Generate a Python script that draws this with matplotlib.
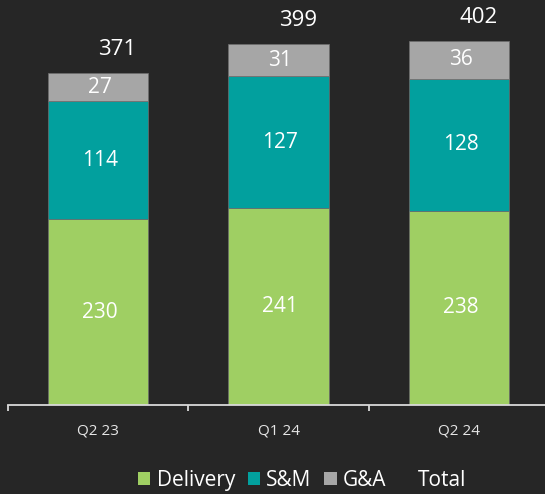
import matplotlib.pyplot as plt
from matplotlib.patches import Patch

plt.rcParams['font.family'] = ['Open Sans', 'DejaVu Sans']

quarters = ['Q2 23', 'Q1 24', 'Q2 24']
delivery = [230, 241, 238]
sales_marketing = [114, 127, 128]
general_admin = [27, 31, 36]
totals = [371, 399, 402]

series = [('Delivery', delivery, '#9fcf63'),
          ('S&M', sales_marketing, '#02a09e'),
          ('G&A', general_admin, '#a6a6a6')]

bg = '#262626'
fig = plt.figure(figsize=(5.45, 4.94), dpi=100, facecolor=bg)
ax = fig.add_axes([8 / 545, 89 / 494, 541 / 545, 405 / 494], facecolor=bg)
ax.set_ylim(50, 442)
ax.set_xlim(-0.5, 2.5)

x = range(len(quarters))
bottom = [0] * len(quarters)
for name, vals, color in series:
    ax.bar(x, vals, width=0.557, bottom=bottom, color=color,
           edgecolor='#6e6e6e', linewidth=0.5, zorder=2)
    for i, v in enumerate(vals):
        lo = max(bottom[i], ax.get_ylim()[0])
        ax.text(i + 0.01, (lo + bottom[i] + v) / 2, str(v), ha='center', va='center',
                color='white', fontsize=15, zorder=3)
    bottom = [b + v for b, v in zip(bottom, vals)]

# totals sit above each stack, nudged to the right
for i, t in enumerate(totals):
    ax.annotate(str(t), (i, t), xytext=(14, 17), textcoords='offset points',
                ha='center', va='center', color='white', fontsize=16)

for side in ['top', 'right', 'left']:
    ax.spines[side].set_visible(False)
ax.spines['bottom'].set_color('#d9d9d9')
ax.spines['bottom'].set_linewidth(1.3)
ax.set_yticks([])
ax.set_xticks(list(x))
ax.set_xticklabels(quarters, fontsize=11, color='#e6e6e6')
ax.tick_params(axis='x', which='major', length=0, pad=13)
ax.set_xticks([-0.5, 0.5, 1.5, 2.5], minor=True)
ax.tick_params(axis='x', which='minor', length=4, width=1.3, color='#d9d9d9',
               direction='out')

handles = [Patch(facecolor=c, edgecolor='none') for _, _, c in series]
handles.append(Patch(facecolor='none', edgecolor='none'))
labels = [n for n, _, _ in series] + ['Total']
fig.legend(handles, labels, loc='center', bbox_to_anchor=(302 / 545, 1 - 480 / 494),
           ncol=4, frameon=False, fontsize=15, labelcolor='white',
           handlelength=0.6, handleheight=0.6, handletextpad=0.3,
           columnspacing=0.6, borderpad=0.2)

plt.savefig('out.png', dpi=100, facecolor=bg)
